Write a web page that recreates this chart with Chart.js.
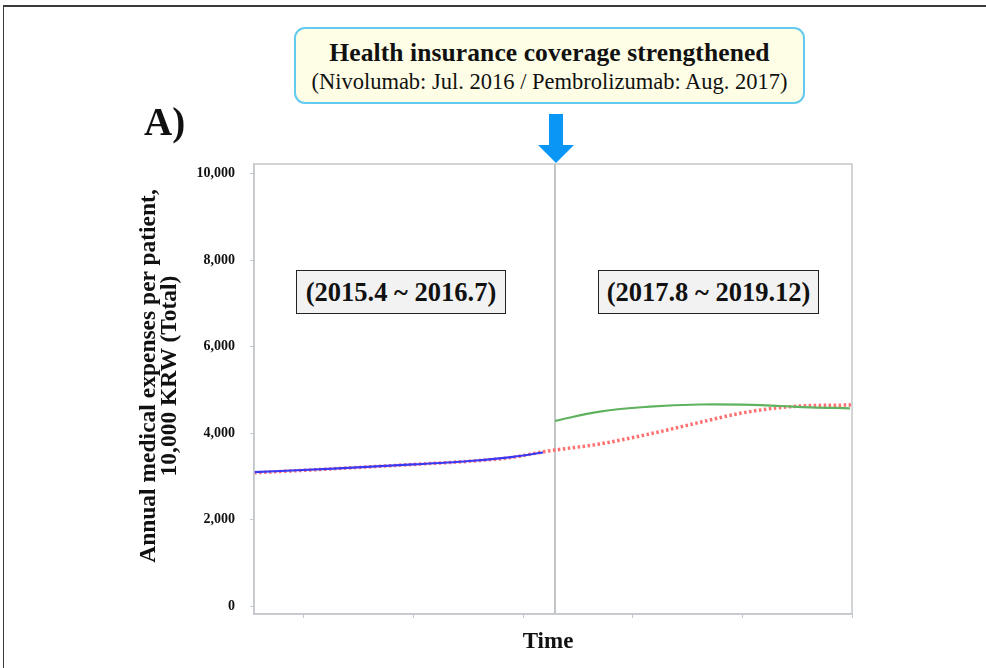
<!DOCTYPE html>
<html>
<head>
<meta charset="utf-8">
<script src="https://cdn.jsdelivr.net/npm/chart.js@4.4.1/dist/chart.umd.min.js"></script>
<style>
  html, body { margin: 0; padding: 0; background: #fff; }
  #wrap { position: relative; width: 986px; height: 668px; overflow: hidden; font-family: "Liberation Serif", "Times New Roman", serif; }
  #frame { position: absolute; left: 3px; top: 5px; right: -2px; bottom: -2px; border-top: 2px solid #3a3a3a; border-left: 1px solid #3a3a3a; }
  #chart { position: absolute; left: 0; top: 0; }
  .callout { position: absolute; left: 294px; top: 27px; width: 511px; height: 77px; box-sizing: border-box;
             border: 2px solid #62caf0; border-radius: 11px; background: #fefee6; text-align: center; }
  .callout .t1 { font-weight: bold; font-size: 25.5px; margin-top: 10px; line-height: 28px; color: #111; letter-spacing: 0.1px; }
  .callout .t2 { font-size: 22.5px; margin-top: 2px; line-height: 26px; color: #111; }
  .panel { position: absolute; left: 144px; top: 99px; font-size: 39px; line-height: 46px; font-weight: bold; color: #111; }
  .period { position: absolute; top: 270px; height: 44px; box-sizing: border-box; border: 1px solid #222; background: #f2f2f2;
            font-weight: bold; font-size: 26.5px; line-height: 42px; text-align: center; color: #111; }
  #arrow { position: absolute; left: 537px; top: 114px; }
  .ytitle { position: absolute; left: 157.5px; top: 376px; width: 440px; transform: translate(-50%, -50%) rotate(-90deg);
            text-align: center; font-weight: bold; font-size: 23.5px; line-height: 21px; color: #111; white-space: nowrap; }
  .xtitle { position: absolute; left: 548px; top: 641px; transform: translate(-50%, -50%);
            font-weight: bold; font-size: 23px; line-height: 24px; color: #111; }
</style>
</head>
<body>
<div id="wrap">
  <div id="frame"></div>
  <canvas id="chart" width="986" height="668"></canvas>
  <div class="callout">
    <div class="t1">Health insurance coverage strengthened</div>
    <div class="t2">(Nivolumab: Jul. 2016 / Pembrolizumab: Aug. 2017)</div>
  </div>
  <svg id="arrow" width="38" height="50" viewBox="0 0 38 50">
    <polygon points="12,0 26,0 26,31 37,31 19,49 1,31 12,31" fill="#0a96f5"/>
  </svg>
  <div class="panel">A)</div>
  <div class="period" style="left:296px; width:210px;">(2015.4 ~ 2016.7)</div>
  <div class="period" style="left:598px; width:221px;">(2017.8 ~ 2019.12)</div>
  <div class="ytitle">Annual medical expenses per patient,<br>10,000 KRW (Total)</div>
  <div class="xtitle">Time</div>
</div>
<script>
// Time index (observation order) and annual expenses per patient, 10,000 KRW
const preTime   = [0, 8, 16, 22, 26, 29];
const preCost   = [3100, 3185, 3280, 3365, 3455, 3555];

const postTime  = [30.2, 34.7, 39.7, 44.7, 50, 52.8, 55.8, 59.8];
const postCost  = [4285, 4500, 4615, 4665, 4655, 4630, 4600, 4577];

const cfTime    = [0, 8, 16, 22, 26, 29, 30.2, 34.7, 39.7, 44.7, 48.8, 53.8, 60];
const cfCost    = [3085, 3180, 3280, 3360, 3445, 3572, 3612, 3753, 3984, 4250, 4462, 4615, 4655];

// Policy change point on the time axis
const policyTime = 30.2;

// Axis ranges and ticks
const timeMin = 0, timeMax = 60;
const timeTicks = [5, 16, 27, 38, 49, 60];
const costMin = -175, costMax = 10220;
const costTicks = [0, 2000, 4000, 6000, 8000, 10000];

const pts = (xs, ys) => xs.map((x, i) => ({ x: x, y: ys[i] }));

const plotFrame = {
  id: 'plotFrame',
  afterDatasetsDraw(chart) {
    const { ctx, chartArea: a } = chart;
    ctx.save();
    ctx.strokeStyle = '#c4c8cc';
    ctx.lineWidth = 1.5;
    ctx.strokeRect(a.left, a.top, a.right - a.left, a.bottom - a.top);
    ctx.restore();
  }
};

const serif = '"Liberation Serif", "Times New Roman", serif';

new Chart(document.getElementById('chart'), {
  type: 'line',
  data: {
    datasets: [
      {
        label: 'Policy change',
        data: [{ x: policyTime, y: costMin }, { x: policyTime, y: costMax }],
        borderColor: '#c2c4c6', borderWidth: 2, pointRadius: 0, order: 4
      },
      {
        label: 'Counterfactual',
        data: pts(cfTime, cfCost),
        borderColor: '#ff7070', borderWidth: 3.5, borderDash: [2.5, 2.5],
        pointRadius: 0, cubicInterpolationMode: 'monotone', order: 3
      },
      {
        label: '2015.4 ~ 2016.7',
        data: pts(preTime, preCost),
        borderColor: '#3838f5', borderWidth: 2.2, pointRadius: 0,
        cubicInterpolationMode: 'monotone', order: 1
      },
      {
        label: '2017.8 ~ 2019.12',
        data: pts(postTime, postCost),
        borderColor: '#5fb35f', borderWidth: 2.2, pointRadius: 0,
        tension: 0.4, order: 2
      }
    ]
  },
  options: {
    responsive: false,
    animation: false,
    events: [],
    layout: { padding: { left: 136, top: 164, right: 134, bottom: 16 } },
    plugins: { legend: { display: false }, tooltip: { enabled: false } },
    scales: {
      x: {
        type: 'linear', min: timeMin, max: timeMax,
        afterBuildTicks: s => { s.ticks = timeTicks.map(v => ({ value: v })); },
        afterFit: s => { s.height = 38; },
        grid: { drawOnChartArea: false, drawTicks: true, tickLength: 4, color: '#c4c8cc' },
        border: { display: true, color: '#c4c8cc', width: 1.5 },
        ticks: { display: false }
      },
      y: {
        type: 'linear', min: costMin, max: costMax,
        afterBuildTicks: s => { s.ticks = costTicks.map(v => ({ value: v })); },
        afterFit: s => { s.width = 118; },
        grid: { drawOnChartArea: false, drawTicks: true, tickLength: 4, color: '#c4c8cc' },
        border: { display: true, color: '#c4c8cc', width: 1.5 },
        ticks: {
          color: '#111', padding: 15,
          font: { family: serif, size: 14, weight: 'bold' },
          callback: v => v.toLocaleString('en-US')
        }
      }
    }
  },
  plugins: [plotFrame]
});
</script>
</body>
</html>
